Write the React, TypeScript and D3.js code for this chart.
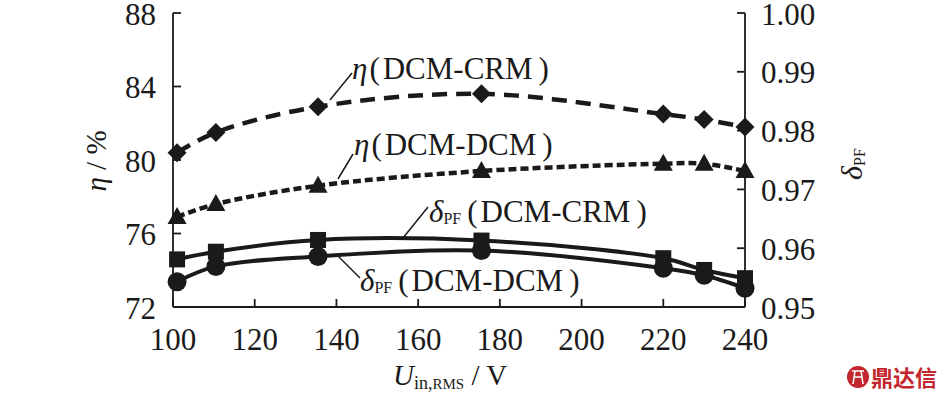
import React from "react";
import * as d3 from "d3";

const voltage = [101, 110.5, 135.5, 175.5, 220, 230, 240];
const etaCRM = [80.4, 81.5, 82.9, 83.6, 82.5, 82.2, 81.8];
const etaDCM = [76.9, 77.6, 78.6, 79.4, 79.8, 79.8, 79.4];
const pfCRM = [0.9581, 0.9594, 0.9614, 0.9613, 0.9583, 0.9563, 0.9549];
const pfDCM = [0.9543, 0.9569, 0.9586, 0.9596, 0.9566, 0.9554, 0.9532];
const xTicks = [100, 120, 140, 160, 180, 200, 220, 240];
const leftTicks = [72, 76, 80, 84, 88];
const rightTicks = [0.95, 0.96, 0.97, 0.98, 0.99, 1.0];

const W = 946, H = 399;
const L = 173, R = 745, T = 13, B = 307;
const ink = "#1a1a1a";
const S = (size: number, extra: React.CSSProperties = {}): React.CSSProperties => ({
  fontFamily: '"Liberation Serif"',
  fontSize: size,
  fill: ink,
  ...extra,
});

export default function App() {
  const x = d3.scaleLinear().domain([100, 240]).range([L, R]);
  const yL = d3.scaleLinear().domain([72, 88]).range([B, T]);
  const yR = d3.scaleLinear().domain([0.95, 1.0]).range([B, T]);
  const curve = d3.curveCatmullRom.alpha(0.5);
  const lineL = d3.line<number>().x((_, i) => x(voltage[i])).y((d) => yL(d)).curve(curve);
  const lineR = d3.line<number>().x((_, i) => x(voltage[i])).y((d) => yR(d)).curve(curve);

  const diamond = (cx: number, cy: number, s: number) =>
    `M${cx},${cy - s}L${cx + s},${cy}L${cx},${cy + s}L${cx - s},${cy}Z`;
  const tri = (cx: number, cy: number) =>
    `M${cx},${cy - 10}L${cx + 9.5},${cy + 7}L${cx - 9.5},${cy + 7}Z`;

  const fs = 31;
  const it = { fontStyle: "italic" } as React.CSSProperties;
  return (
    <svg width={W} height={H} style={{ display: "block", position: "absolute", left: 0, top: 0, background: "#fff" }}>
      <rect width={W} height={H} fill="#fff" />
      {/* axes */}
      <g stroke={ink} strokeWidth={1.8} fill="none">
        <line x1={L} y1={T} x2={L} y2={B} />
        <line x1={R} y1={T} x2={R} y2={B} />
        <line x1={L} y1={B} x2={R} y2={B} />
        {leftTicks.map((t) => (
          <line key={"l" + t} x1={L} x2={L + 8} y1={yL(t)} y2={yL(t)} />
        ))}
        {rightTicks.map((t) => (
          <line key={"r" + t} x1={R - 8} x2={R} y1={yR(t)} y2={yR(t)} />
        ))}
        {xTicks.map((t) => (
          <line key={"x" + t} x1={x(t)} x2={x(t)} y1={B} y2={B - 8} />
        ))}
      </g>
      {leftTicks.map((t) => (
        <text key={"lt" + t} x={L - 17} y={yL(t) + 11.5} textAnchor="end" style={S(fs)}>{t}</text>
      ))}
      {rightTicks.map((t) => (
        <text key={"rt" + t} x={R + 16} y={yR(t) + 11.5} textAnchor="start" style={S(fs)}>{t.toFixed(2)}</text>
      ))}
      {xTicks.map((t) => (
        <text key={"xt" + t} x={x(t)} y={B + 43} textAnchor="middle" style={S(fs)}>{t}</text>
      ))}

      {/* series lines */}
      <path d={lineL(etaCRM) || ""} fill="none" stroke={ink} strokeWidth={4.5} strokeDasharray="15 9" />
      <path d={lineL(etaDCM) || ""} fill="none" stroke={ink} strokeWidth={4.5} strokeDasharray="8 4" />
      <path d={lineR(pfCRM) || ""} fill="none" stroke={ink} strokeWidth={4} />
      <path d={lineR(pfDCM) || ""} fill="none" stroke={ink} strokeWidth={4} />

      {/* markers */}
      {etaCRM.map((v, i) => (
        <path key={"d" + i} d={diamond(x(voltage[i]), yL(v), 9.5)} fill={ink} />
      ))}
      {etaDCM.map((v, i) => (
        <path key={"t" + i} d={tri(x(voltage[i]), yL(v))} fill={ink} />
      ))}
      {pfCRM.map((v, i) => (
        <rect key={"s" + i} x={x(voltage[i]) - 8} y={yR(v) - 8} width={16} height={16} fill={ink} />
      ))}
      {pfDCM.map((v, i) => (
        <circle key={"c" + i} cx={x(voltage[i])} cy={yR(v)} r={9.5} fill={ink} />
      ))}

      {/* leaders */}
      <g stroke={ink} strokeWidth={1.5}>
        <line x1={330} y1={100} x2={352} y2={73} />
        <line x1={338} y1={179} x2={353} y2={154} />
        <line x1={403} y1={238} x2={428} y2={207} />
        <line x1={337} y1={255} x2={360} y2={278} />
      </g>

      {/* annotations */}
      <text x={352} y={79} style={S(fs)}>
        <tspan style={it}>η</tspan>
        <tspan dx={2}>(</tspan>
        <tspan dx={3}>DCM-CRM</tspan>
        <tspan dx={6}>)</tspan>
      </text>
      <text x={354} y={155} style={S(fs)}>
        <tspan style={it}>η</tspan>
        <tspan dx={2}>(</tspan>
        <tspan dx={3}>DCM-DCM</tspan>
        <tspan dx={6}>)</tspan>
      </text>
      <text x={429} y={222} style={S(fs)}>
        <tspan style={it}>δ</tspan>
        <tspan style={{ fontSize: 16 }} dy={2}>PF</tspan>
        <tspan dx={6} dy={-2}>(</tspan>
        <tspan dx={3}>DCM-CRM</tspan>
        <tspan dx={6}>)</tspan>
      </text>
      <text x={360} y={291} style={S(fs)}>
        <tspan style={it}>δ</tspan>
        <tspan style={{ fontSize: 16 }} dy={2}>PF</tspan>
        <tspan dx={6} dy={-2}>(</tspan>
        <tspan dx={3}>DCM-DCM</tspan>
        <tspan dx={6}>)</tspan>
      </text>

      {/* axis titles */}
      <text transform="translate(106,161) rotate(-90)" textAnchor="middle" style={S(29)}>
        <tspan style={it}>η</tspan>
        <tspan> / %</tspan>
      </text>
      <text x={393} y={385} style={S(29)}>
        <tspan style={it}>U</tspan>
        <tspan style={{ fontSize: 18 }} dy={4}>in,</tspan>
        <tspan style={{ fontSize: 15 }}>RMS</tspan>
        <tspan style={{ fontSize: 29 }} dy={-4}> / V</tspan>
      </text>
      <text transform="translate(862,164) rotate(-90)" textAnchor="middle" style={S(30)}>
        <tspan style={it}>δ</tspan>
        <tspan style={{ fontSize: 16 }} dy={3}>PF</tspan>
      </text>

      {/* watermark */}
      <g>
        <circle cx={858} cy={377} r={11} fill="#c3262c" />
        <path d="M852,371 L864,371 M855,371 L853,384 M861,371 L863,384 M854,377 L862,377" stroke="#fff" strokeWidth={1.6} fill="none" />
        <text x={871} y={386} style={{ fontFamily: '"Noto Sans CJK SC"', fontWeight: 700, fontSize: 22, fill: "#c3262c" }}>鼎达信</text>
      </g>
    </svg>
  );
}
